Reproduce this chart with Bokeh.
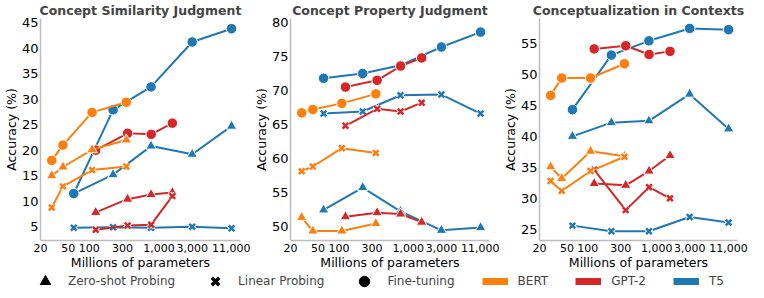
from bokeh.plotting import figure
from bokeh.layouts import column, row
from bokeh.models import FixedTicker, NumeralTickFormatter, Range1d, Legend, LegendItem
from bokeh.embed import file_html
from bokeh.resources import INLINE

# ---------------- data ----------------
bert_params = [29, 42, 110, 340]
gpt2_params = [124, 355, 774, 1558]
t5_params = [60, 220, 770, 3000, 11000]

x_ticks = [20, 50, 100, 300, 1000, 3000, 11000]

titles = ["Concept Similarity Judgment", "Concept Property Judgment", "Conceptualization in Contexts"]

# Concept Similarity Judgment
sim_bert_zero = [15.0, 16.7, 20.1, 22.0]
sim_bert_linear = [8.75, 12.9, 16.1, 16.8]
sim_bert_ft = [18.0, 21.0, 27.4, 29.4]
sim_gpt2_zero = [7.8, 10.4, 11.3, 11.7]
sim_gpt2_linear = [4.4, 5.25, 5.4, 11.0]
sim_gpt2_ft = [20.0, 23.3, 23.1, 25.3]
sim_t5_zero = [11.5, 15.2, 20.8, 19.2, 24.7]
sim_t5_linear = [4.8, 4.9, 4.8, 5.0, 4.7]
sim_t5_ft = [11.5, 27.9, 32.4, 41.2, 43.8]
sim_yticks = [5, 10, 15, 20, 25, 30, 35, 40, 45]

# Concept Property Judgment
prop_bert_zero = [51.3, 49.3, 49.3, 50.4]
prop_bert_linear = [58.1, 58.8, 61.5, 60.8]
prop_bert_ft = [66.7, 67.2, 68.1, 69.5]
prop_gpt2_zero = [51.4, 52.0, 51.8, 50.6]
prop_gpt2_linear = [64.8, 67.3, 66.9, 68.2]
prop_gpt2_ft = [70.5, 71.5, 73.6, 74.8]
prop_t5_zero = [52.4, 55.7, 52.2, 49.4, 49.8]
prop_t5_linear = [66.6, 66.9, 69.3, 69.4, 66.6]
prop_t5_ft = [71.8, 72.5, 73.7, 76.4, 78.6]
prop_yticks = [50, 55, 60, 65, 70, 75, 80]

# Conceptualization in Contexts
ctx_bert_zero = [35.1, 33.2, 37.6, 36.8]
ctx_bert_linear = [32.8, 31.2, 34.4, 36.7]
ctx_bert_ft = [46.6, 49.4, 49.4, 51.7]
ctx_gpt2_zero = [32.4, 32.1, 34.4, 36.9]
ctx_gpt2_linear = [34.6, 28.1, 31.8, 30.0]
ctx_gpt2_ft = [54.1, 54.6, 53.2, 53.7]
ctx_t5_zero = [40.0, 42.2, 42.5, 46.8, 41.2]
ctx_t5_linear = [25.6, 24.7, 24.7, 27.0, 26.1]
ctx_t5_ft = [44.3, 53.1, 55.4, 57.4, 57.2]
ctx_yticks = [25, 30, 35, 40, 45, 50, 55]

y_ranges = [(2.3, 45.8), (47.9, 80.6), (23.2, 59.0)]
x_range = (20, 14800)

legend_labels = ["Zero-shot Probing", "Linear Probing", "Fine-tuning", "BERT", "GPT-2", "T5"]

ORANGE = "#ff7f0e"
RED = "#d62728"
BLUE = "#1f77b4"
FONT = "DejaVu Sans"


def make_panel(title, series, yticks, yr, width, left, right):
    p = figure(width=width, height=272, x_axis_type="log",
               x_range=Range1d(*x_range), y_range=Range1d(*yr),
               output_backend="svg", toolbar_location=None,
               min_border_left=left, min_border_right=right,
               min_border_top=0, min_border_bottom=20)
    p.title.text = title
    p.title.align = "center"
    p.title.text_font = FONT
    p.title.text_font_style = "bold"
    p.title.text_font_size = "12.5px"
    p.title.standoff = 1
    p.title.offset = 0
    p.grid.visible = False
    p.outline_line_color = None
    for ax in (p.xaxis[0], p.yaxis[0]):
        ax.axis_line_color = "#bdbdbd"
        ax.axis_line_width = 1.5
        ax.major_tick_line_color = None
        ax.minor_tick_line_color = None
        ax.major_tick_out = 0
        ax.major_tick_in = 0
        ax.minor_tick_out = 0
        ax.minor_tick_in = 0
        ax.major_label_text_font = FONT
        ax.axis_label_text_font = FONT
        ax.axis_label_text_font_style = "normal"
        ax.axis_label_text_font_size = "12.5px"
        ax.axis_label_text_color = "black"
        ax.major_label_text_color = "black"
    p.xaxis.ticker = FixedTicker(ticks=x_ticks)
    p.xaxis.formatter = NumeralTickFormatter(format="0,0")
    p.xaxis.major_label_text_font_size = "11px"
    p.xaxis.major_label_standoff = 3
    p.xaxis.axis_label = "Millions of parameters"
    p.xaxis.axis_label_standoff = 0
    p.yaxis.ticker = FixedTicker(ticks=yticks)
    p.yaxis.major_label_text_font_size = "13px"
    p.yaxis.major_label_standoff = 2
    p.yaxis.axis_label = "Accuracy (%)"
    p.yaxis.axis_label_standoff = 0

    for xs, ys, color, marker in series:
        p.line(xs, ys, line_color=color, line_width=2)
        if marker == "x":
            p.scatter(xs, ys, marker="x", size=8, line_color="white", line_width=4.5)
            p.scatter(xs, ys, marker="x", size=8, line_color=color, line_width=2.5)
        elif marker == "circle":
            p.scatter(xs, ys, marker="circle", size=10.5, fill_color=color,
                      line_color="white", line_width=1)
        else:
            p.scatter(xs, ys, marker="triangle", size=10.5, fill_color=color,
                      line_color="white", line_width=1)
    return p


def series_for(bz, bl, bf, gz, gl, gf, tz, tl, tf):
    return [
        (t5_params, tz, BLUE, "triangle"), (t5_params, tl, BLUE, "x"), (t5_params, tf, BLUE, "circle"),
        (gpt2_params, gz, RED, "triangle"), (gpt2_params, gl, RED, "x"), (gpt2_params, gf, RED, "circle"),
        (bert_params, bz, ORANGE, "triangle"), (bert_params, bl, ORANGE, "x"), (bert_params, bf, ORANGE, "circle"),
    ]


p1 = make_panel(titles[0], series_for(sim_bert_zero, sim_bert_linear, sim_bert_ft,
                                      sim_gpt2_zero, sim_gpt2_linear, sim_gpt2_ft,
                                      sim_t5_zero, sim_t5_linear, sim_t5_ft),
                sim_yticks, y_ranges[0], 250, 34, 10)
p2 = make_panel(titles[1], series_for(prop_bert_zero, prop_bert_linear, prop_bert_ft,
                                      prop_gpt2_zero, prop_gpt2_linear, prop_gpt2_ft,
                                      prop_t5_zero, prop_t5_linear, prop_t5_ft),
                prop_yticks, y_ranges[1], 249, 34, 10)
p3 = make_panel(titles[2], series_for(ctx_bert_zero, ctx_bert_linear, ctx_bert_ft,
                                      ctx_gpt2_zero, ctx_gpt2_linear, ctx_gpt2_ft,
                                      ctx_t5_zero, ctx_t5_linear, ctx_t5_ft),
                ctx_yticks, y_ranges[2], 249, 34, 11)

# ---------------- legend ----------------
# dummy one-point renderers placed outside the visible range: only their legend glyphs show
lf = figure(width=748, height=18, output_backend="svg", toolbar_location=None,
            x_range=Range1d(0, 1), y_range=Range1d(0, 1),
            x_axis_location=None, y_axis_location=None, min_border=0)
lf.grid.visible = False
lf.outline_line_color = None
off = [-10]
r_zero = lf.scatter(x=off, y=off, marker="triangle", size=10, fill_color="black", line_color="black")
r_lin = lf.scatter(x=off, y=off, marker="x", size=8, line_color="black", line_width=3.5)
r_ft = lf.scatter(x=off, y=off, marker="circle", size=10, fill_color="black", line_color="black")
r_bert = lf.line(x=off, y=off, line_color=ORANGE, line_width=7)
r_gpt2 = lf.line(x=off, y=off, line_color=RED, line_width=7)
r_t5 = lf.line(x=off, y=off, line_color=BLUE, line_width=7)
renderers = [r_zero, r_lin, r_ft, r_bert, r_gpt2, r_t5]
legend = Legend(items=[LegendItem(label=lab, renderers=[r]) for lab, r in zip(legend_labels, renderers)],
                orientation="horizontal", location=(32, -4), glyph_width=26, glyph_height=26,
                label_standoff=10, spacing=27, padding=0, margin=0,
                border_line_alpha=0, background_fill_alpha=0,
                label_text_font=FONT, label_text_font_size="12px")
lf.add_layout(legend, "center")

layout = column(row(p1, p2, p3), lf)
open("out.html", "w").write(file_html(layout, INLINE))
